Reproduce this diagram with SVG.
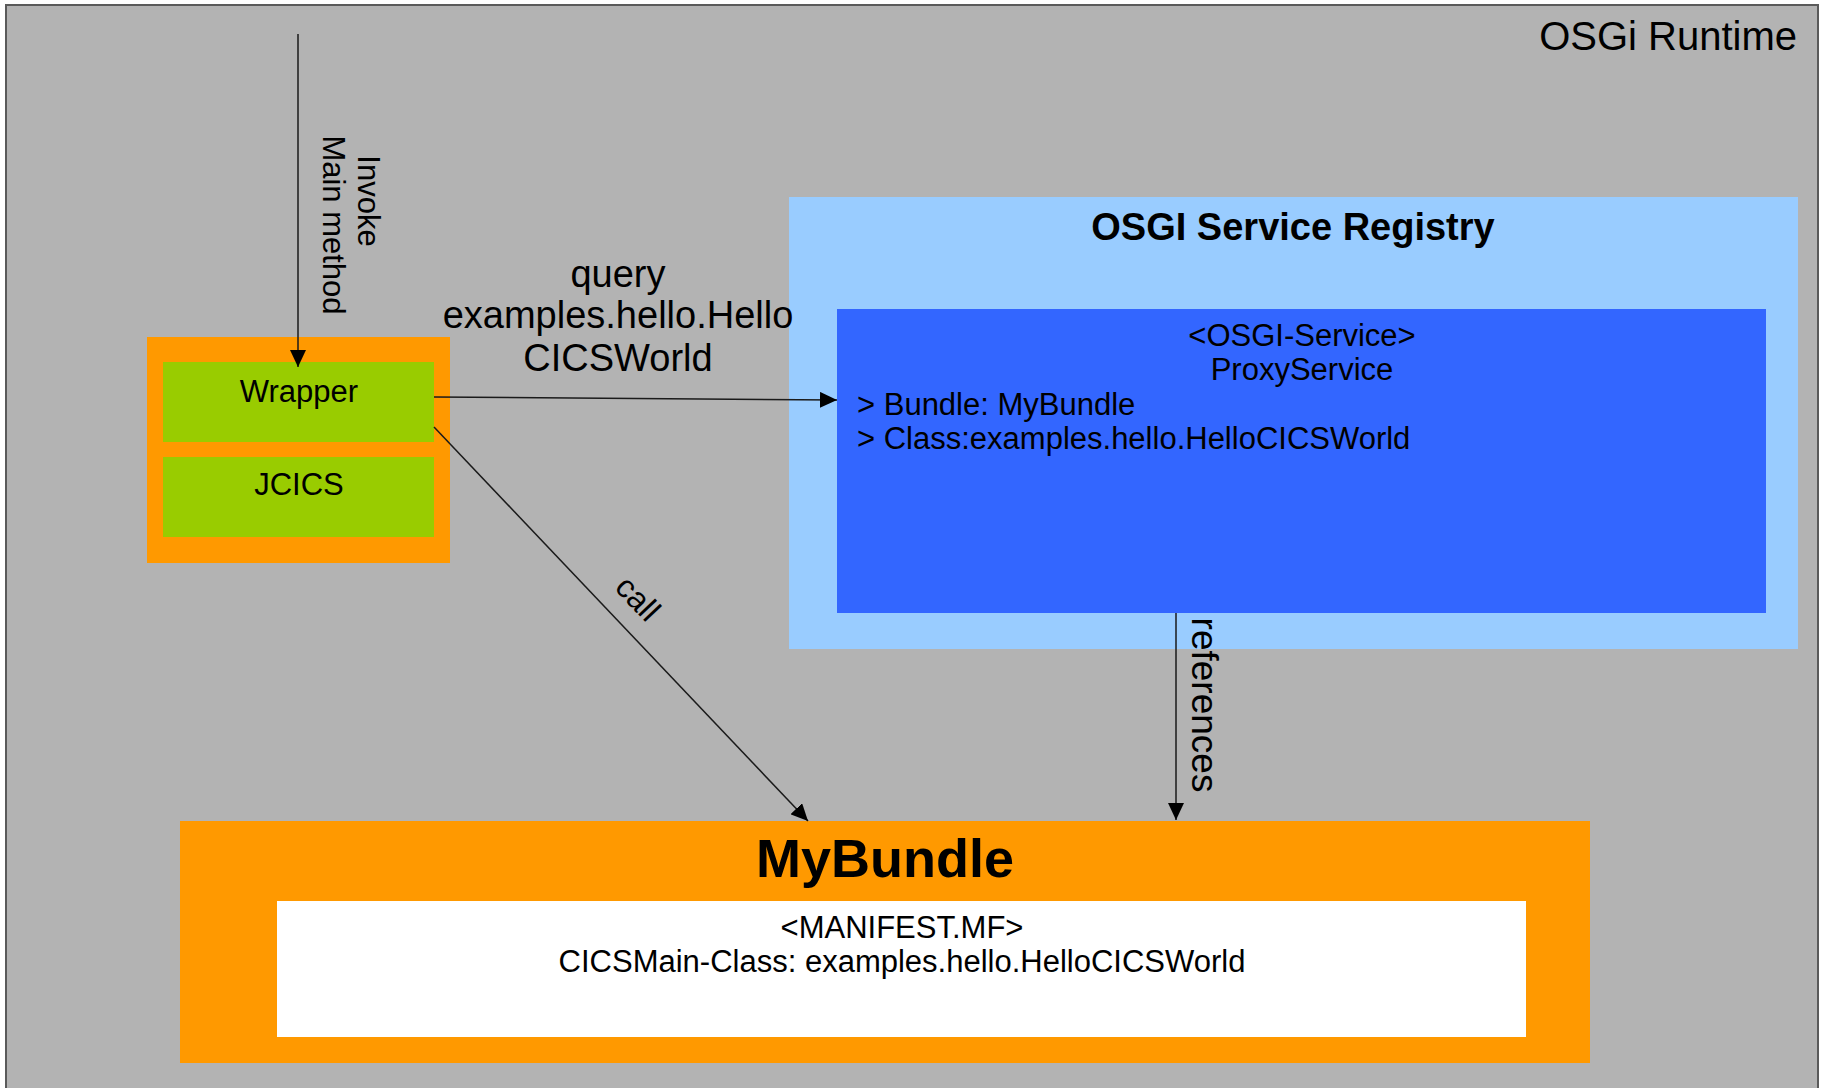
<svg xmlns="http://www.w3.org/2000/svg" width="1825" height="1088" viewBox="0 0 1825 1088">
<style>
  text { font-family: "Liberation Sans", Arial, sans-serif; fill: #000; }
  .c { text-anchor: middle; }
  .conn { stroke: #1a1a1a; stroke-width: 1.5; fill: none; marker-end: url(#arr); }
  .lbl { font-size: 38px; }
</style>
<defs>
  <marker id="arr" viewBox="0 0 17 16" refX="17" refY="8" markerWidth="17" markerHeight="16" markerUnits="userSpaceOnUse" orient="auto">
    <path d="M0,0 L17,8 L0,16 z" fill="#000"/>
  </marker>
</defs>

<g id="osgi-runtime">
  <rect x="6" y="5" width="1812" height="1090" fill="#b3b3b3" stroke="#5a5a5a" stroke-width="2"/>
  <text x="1797" y="50" font-size="40" text-anchor="end">OSGi Runtime</text>
</g>

<g id="service-registry">
  <rect x="789" y="197" width="1009" height="452" fill="#99ccff"/>
  <text x="1293" y="240" font-size="38" font-weight="bold" class="c">OSGI Service Registry</text>
</g>

<g id="proxy-service">
  <rect x="837" y="309" width="929" height="304" fill="#3366ff"/>
  <text x="1302" y="346" font-size="31" class="c">&lt;OSGI-Service&gt;</text>
  <text x="1302" y="380" font-size="31" class="c">ProxyService</text>
  <text x="857" y="415" font-size="31">&gt; Bundle: MyBundle</text>
  <text x="857" y="449" font-size="31">&gt; Class:examples.hello.HelloCICSWorld</text>
</g>

<g id="wrapper-container">
  <rect x="147" y="337" width="303" height="226" fill="#ff9900"/>
</g>
<g id="wrapper">
  <rect x="163" y="362" width="271" height="80" fill="#99cc00"/>
  <text x="299" y="402" font-size="31" class="c">Wrapper</text>
</g>
<g id="jcics">
  <rect x="163" y="457" width="271" height="80" fill="#99cc00"/>
  <text x="299" y="495" font-size="31" class="c">JCICS</text>
</g>

<g id="mybundle">
  <rect x="180" y="821" width="1410" height="242" fill="#ff9900"/>
  <text x="885" y="877" font-size="54" font-weight="bold" class="c">MyBundle</text>
</g>
<g id="manifest">
  <rect x="277" y="901" width="1249" height="136" fill="#ffffff"/>
  <text x="902" y="938" font-size="31" class="c">&lt;MANIFEST.MF&gt;</text>
  <text x="902" y="972" font-size="31" class="c">CICSMain-Class: examples.hello.HelloCICSWorld</text>
</g>

<g id="connectors">
  <line class="conn" x1="298" y1="34" x2="298" y2="367"/>
  <line class="conn" x1="434" y1="397" x2="837" y2="400"/>
  <line class="conn" x1="434" y1="427" x2="808" y2="821"/>
  <line class="conn" x1="1176" y1="613" x2="1176" y2="820"/>
  <g id="labels">
    <text transform="translate(358,201) rotate(90)" font-size="31" class="c">Invoke</text>
    <text transform="translate(323,225) rotate(90)" font-size="31" class="c">Main method</text>
    <text x="618" y="287" class="c lbl">query</text>
    <text x="618" y="328" class="c lbl">examples.hello.Hello</text>
    <text x="618" y="371" class="c lbl">CICSWorld</text>
    <text transform="translate(630,606) rotate(46.5)" font-size="32" class="c">call</text>
    <text transform="translate(1192,705) rotate(90)" font-size="37" class="c">references</text>
  </g>
</g>
</svg>
